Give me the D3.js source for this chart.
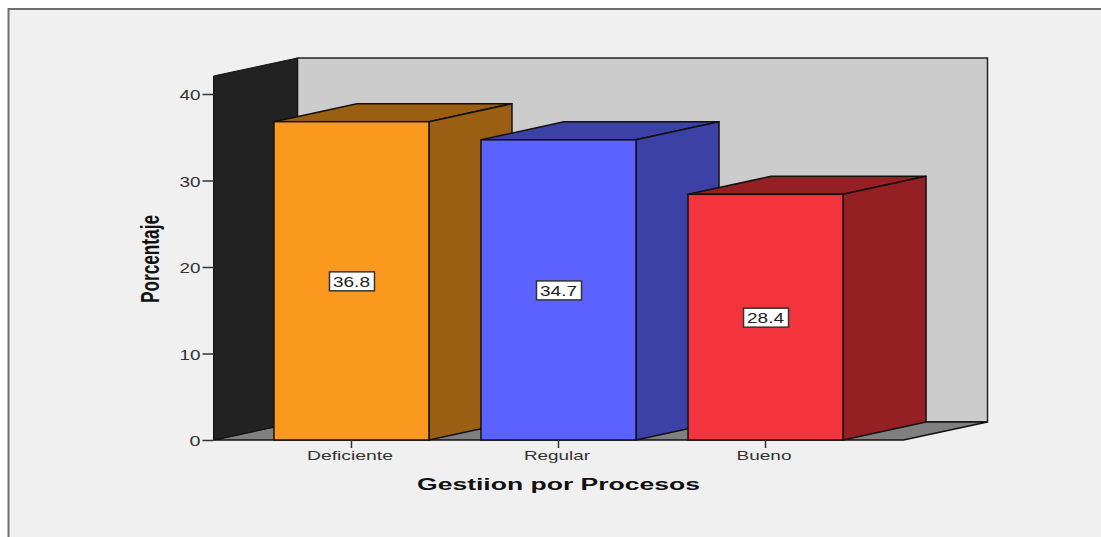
<!DOCTYPE html>
<html>
<head>
<meta charset="utf-8">
<script src="https://cdn.jsdelivr.net/npm/d3@7"></script>
<style>
  html, body { margin: 0; padding: 0; background: #fff; overflow: hidden; }
  text { font-family: "Liberation Sans", Arial, sans-serif; }
</style>
</head>
<body>
<div class="chart"></div>
<script>
var categories = ["Deficiente", "Regular", "Bueno"];
var values = [36.8, 34.7, 28.4];
var yTicks = [0, 10, 20, 30, 40];
var frontColors = ["#fb991f", "#5c62ff", "#f3343c"];
var darkColors = ["#9a5f12", "#3c41a6", "#952024"];
// stretched width of each category label
var catWidths = [86, 66, 55];

var svgWidth = 1101;
var svgHeight = 537;

// offset of the back plane relative to the front plane
var depthX = 84;
var depthY = -18;

var svg = d3.select(".chart")
  .append("svg")
  .attr("width", svgWidth)
  .attr("height", svgHeight)
  .style("display", "block");

// panel and its border
svg.append("rect")
  .attr("x", 8).attr("y", 9)
  .attr("width", svgWidth - 8).attr("height", svgHeight - 9)
  .attr("fill", "#f0f0f0");
svg.append("path")
  .attr("d", `M8.5,${svgHeight}V9H${svgWidth}`)
  .attr("fill", "none")
  .attr("stroke", "#6e6e6e")
  .attr("stroke-width", 2);

var xScale = d3.scaleBand()
  .domain(categories)
  .range([213.5, 903.5])
  .paddingInner(0.2512)
  .paddingOuter(0.292);

var yScale = d3.scaleLinear()
  .domain([0, 40])
  .range([440, 94]);

var yBase = yScale(0);
var yTop = 76;
var x0 = xScale.range()[0];
var x1 = xScale.range()[1];

function poly(points) {
  return "M" + points.map(p => p.join(",")).join("L") + "Z";
}

// back wall
svg.append("path")
  .attr("d", poly([[x0 + depthX, yTop + depthY], [x1 + depthX, yTop + depthY], [x1 + depthX, yBase + depthY], [x0 + depthX, yBase + depthY]]))
  .attr("fill", "#cccccc")
  .attr("stroke", "#222")
  .attr("stroke-width", 1.5);

// floor
svg.append("path")
  .attr("d", poly([[x0, yBase], [x0 + depthX, yBase + depthY], [x1 + depthX, yBase + depthY], [x1, yBase]]))
  .attr("fill", "#808080")
  .attr("stroke", "#111")
  .attr("stroke-width", 1.5);

// left wall
svg.append("path")
  .attr("d", poly([[x0, yTop], [x0 + depthX, yTop + depthY], [x0 + depthX, yBase + depthY], [x0, yBase]]))
  .attr("fill", "#222222")
  .attr("stroke", "#111")
  .attr("stroke-width", 1);

// bars: top, side, then front face
var bars = svg.selectAll(".bar")
  .data(categories)
  .enter()
  .append("g")
  .attr("class", "bar");

bars.append("path")
  .attr("d", (d, i) => {
    var l = xScale(d), r = l + xScale.bandwidth(), t = yScale(values[i]);
    return poly([[l, t], [l + depthX - 1, t + depthY], [r + depthX - 1, t + depthY], [r, t]]);
  })
  .attr("fill", (d, i) => darkColors[i])
  .attr("stroke", "#111")
  .attr("stroke-width", 1.5)
  .attr("stroke-linejoin", "round");

bars.append("path")
  .attr("d", (d, i) => {
    var r = xScale(d) + xScale.bandwidth(), t = yScale(values[i]);
    return poly([[r, t], [r + depthX - 1, t + depthY], [r + depthX - 1, yBase + depthY], [r, yBase]]);
  })
  .attr("fill", (d, i) => darkColors[i])
  .attr("stroke", "#111")
  .attr("stroke-width", 1.5)
  .attr("stroke-linejoin", "round");

bars.append("rect")
  .attr("x", d => xScale(d))
  .attr("y", (d, i) => yScale(values[i]))
  .attr("width", xScale.bandwidth())
  .attr("height", (d, i) => yBase - yScale(values[i]))
  .attr("fill", (d, i) => frontColors[i])
  .attr("stroke", "#111")
  .attr("stroke-width", 1.5);

// value labels in the middle of each bar
var labels = svg.selectAll(".value")
  .data(categories)
  .enter()
  .append("g")
  .attr("class", "value")
  .attr("transform", (d, i) => `translate(${xScale(d) + xScale.bandwidth() / 2},${yScale(values[i] / 2)})`);

labels.append("rect")
  .attr("x", -22).attr("y", -9)
  .attr("width", 45).attr("height", 19)
  .attr("fill", "#fff")
  .attr("stroke", "#333")
  .attr("stroke-width", 1.5);

labels.append("text")
  .attr("y", 6)
  .attr("text-anchor", "middle")
  .attr("font-size", 15)
  .attr("fill", "#222")
  .attr("textLength", 37)
  .attr("lengthAdjust", "spacingAndGlyphs")
  .text((d, i) => values[i].toFixed(1));

// y axis
var yAxis = d3.axisLeft(yScale).tickValues(yTicks).tickSize(11).tickPadding(2);
var yAxisG = svg.append("g")
  .attr("transform", `translate(${x0},0)`)
  .call(yAxis);
yAxisG.select(".domain").remove();
yAxisG.selectAll("line").attr("stroke", "#333").attr("stroke-width", 1.5);
yAxisG.selectAll("text")
  .attr("y", 1.5)
  .attr("font-size", 14)
  .attr("fill", "#333")
  .attr("textLength", d => d === 0 ? 11 : 21)
  .attr("lengthAdjust", "spacingAndGlyphs");

// x axis
var xAxis = d3.axisBottom(xScale).tickSize(8).tickPadding(3);
var xAxisG = svg.append("g")
  .attr("transform", `translate(0,${yBase})`)
  .call(xAxis);
xAxisG.select(".domain").remove();
xAxisG.selectAll("line").attr("stroke", "#333").attr("stroke-width", 1.5);
xAxisG.selectAll("text")
  .attr("x", -1.5)
  .attr("font-size", 13)
  .attr("fill", "#333")
  .attr("textLength", (d, i) => catWidths[i])
  .attr("lengthAdjust", "spacingAndGlyphs");

// axis titles
svg.append("text")
  .attr("x", 558.5)
  .attr("y", 490)
  .attr("text-anchor", "middle")
  .attr("font-size", 16)
  .attr("font-weight", "bold")
  .attr("fill", "#111")
  .attr("textLength", 283)
  .attr("lengthAdjust", "spacingAndGlyphs")
  .text("Gestiion por Procesos");

svg.append("text")
  .attr("transform", "translate(159,259) rotate(-90)")
  .attr("text-anchor", "middle")
  .attr("font-size", 25)
  .attr("font-weight", "bold")
  .attr("fill", "#111")
  .attr("textLength", 88)
  .attr("lengthAdjust", "spacingAndGlyphs")
  .text("Porcentaje");
</script>
</body>
</html>
